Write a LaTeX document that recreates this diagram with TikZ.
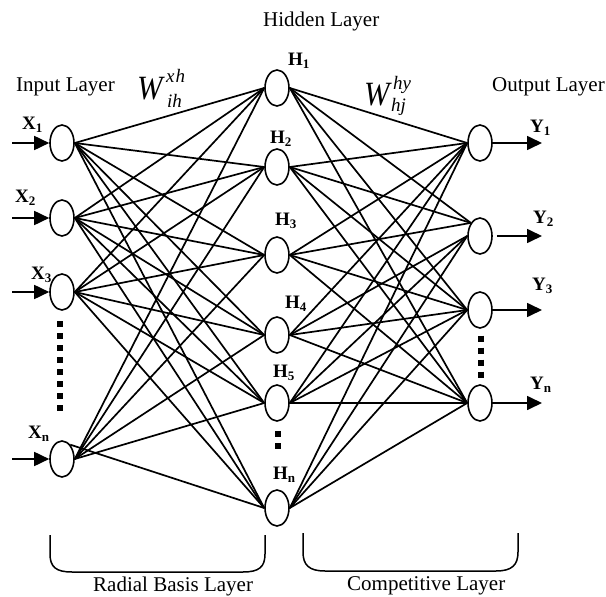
\documentclass[tikz,border=0pt]{standalone}
\usepackage{fontspec}
\setmainfont{Liberation Serif}
\usetikzlibrary{arrows.meta,shapes.geometric}
\newcommand{\nnlab}[2]{\fontsize{19}{19}\selectfont\textbf{#1}\raisebox{-3pt}{\fontsize{13}{13}\selectfont\textbf{#2}}}
\newcommand{\bigW}{\scalebox{0.9}[1]{\fontsize{34}{34}\selectfont\itshape W}}
\newcommand{\wscr}[1]{\fontsize{19}{19}\selectfont\itshape #1}
\begin{document}
\begin{tikzpicture}[x=1pt,y=-1pt,
  neuron/.style={draw,ellipse,line width=1.6pt,minimum width=24pt,minimum height=36pt,inner sep=0pt},
  conn/.style={line width=1.7pt},
  io/.style={line width=1.7pt,-{Triangle[length=15pt,width=14pt]}},
  lab/.style={anchor=base west,inner sep=0pt},
  layer/.style={anchor=base west,inner sep=0pt,font=\fontsize{21}{21}\selectfont},
  dotsq/.style={line width=6pt,dash pattern=on 6pt off 6pt},
  brace/.style={line width=1.5pt}]
\useasboundingbox (0,0) rectangle (606,597);

% input layer
\node[neuron] (x1) at (62,143) {};
\node[neuron] (x2) at (62,218) {};
\node[neuron] (x3) at (62,292) {};
\node[neuron] (xn) at (62,459) {};
% hidden layer
\node[neuron] (h1) at (277,88) {};
\node[neuron] (h2) at (277,167) {};
\node[neuron] (h3) at (277,255) {};
\node[neuron] (h4) at (277,335) {};
\node[neuron] (h5) at (277,403) {};
\node[neuron] (hn) at (277,508) {};
% output layer
\node[neuron] (y1) at (480,143) {};
\node[neuron] (y2) at (480,236) {};
\node[neuron] (y3) at (480,310) {};
\node[neuron] (yn) at (480,403) {};

% input -> hidden
\foreach \i in {x1,x2,x3}
  \foreach \j in {h1,h2,h3,h4,h5,hn}
    \draw[conn] (\i.east) -- (\j.west);
\foreach \j in {h1,h2,h3,h4,h5}
  \draw[conn] (xn.east) -- (\j.west);
\draw[conn] (xn.60) -- (hn.west);

% hidden -> output
\foreach \i in {h1,h2,h3,h4,h5,hn}
  \foreach \j in {y1,y3,yn}
    \draw[conn] (\i.east) -- (\j.west);
\foreach \i in {h1,h2,h3}
  \draw[conn] (\i.east) -- (y2.125);
\foreach \i in {h4,h5,hn}
  \draw[conn] (\i.east) -- (y2.west);

% input arrows
\coordinate (ax1) at (12,143);
\coordinate (ax2) at (12,218);
\coordinate (ax3) at (12,292);
\coordinate (axn) at (12,459);
\draw[io] (ax1) -- (x1.west);
\draw[io] (ax2) -- (x2.west);
\draw[io] (ax3) -- (x3.west);
\draw[io] (axn) -- (xn.west);
% output arrows
\coordinate (ay1) at (542,143);
\coordinate (ay2) at (542,236);
\coordinate (ay3) at (542,310);
\coordinate (ayn) at (542,403);
\draw[io] (y1.east) -- (ay1);
\draw[io] ([xshift=4pt]y2.east) -- (ay2);
\draw[io] (y3.east) -- (ay3);
\draw[io] (yn.east) -- (ayn);

% dots
\draw[dotsq] (60,321) -- (60,411);
\draw[dotsq] (278,431) -- (278,449);
\draw[dotsq] (481,335.5) -- (481,377.5);

% node labels
\node[lab] (lx1) at (22,129) {\nnlab{X}{1}};
\node[lab] (lx2) at (15,202) {\nnlab{X}{2}};
\node[lab] (lx3) at (31,279) {\nnlab{X}{3}};
\node[lab] (lxn) at (28,438) {\nnlab{X}{n}};
\node[lab] (lh1) at (288,65) {\nnlab{H}{1}};
\node[lab] (lh2) at (270,143) {\nnlab{H}{2}};
\node[lab] (lh3) at (275,225) {\nnlab{H}{3}};
\node[lab] (lh4) at (285,308) {\nnlab{H}{4}};
\node[lab] (lh5) at (273,377) {\nnlab{H}{5}};
\node[lab] (lhn) at (273,479) {\nnlab{H}{n}};
\node[lab] (ly1) at (530,132) {\nnlab{Y}{1}};
\node[lab] (ly2) at (533,223) {\nnlab{Y}{2}};
\node[lab] (ly3) at (532,290) {\nnlab{Y}{3}};
\node[lab] (lyn) at (530,389) {\nnlab{Y}{n}};

% layer labels
\node[layer] (tin) at (16,91) {Input Layer};
\node[layer] (thid) at (263,27) {Hidden Layer};
\node[layer] (tout) at (492,91) {Output Layer};
\node[layer] (trbl) at (93,591) {Radial Basis Layer};
\node[layer] (tcl) at (347,590) {Competitive Layer};

% weights
\node[lab] (w1) at (137,99) {\bigW};
\node[lab] (w1s) at (166,82) {\wscr{x\kern1pt h}};
\node[lab] (w1b) at (167,107) {\wscr{ih}};
\node[lab] (w2) at (364,105) {\bigW};
\node[lab] (w2s) at (393,89) {\wscr{hy}};
\node[lab] (w2b) at (391,111) {\wscr{hj}};

% braces
\draw[brace] (50,535) -- (50,554) .. controls (50,567) and (56,572) .. (72,572) -- (243,572) .. controls (259,572) and (265,567) .. (265,554) -- (265,535);
\draw[brace] (303,533) -- (303,552) .. controls (303,565) and (309,571) .. (325,571) -- (496,571) .. controls (512,571) and (518,565) .. (518,552) -- (518,533);
\end{tikzpicture}
\end{document}
